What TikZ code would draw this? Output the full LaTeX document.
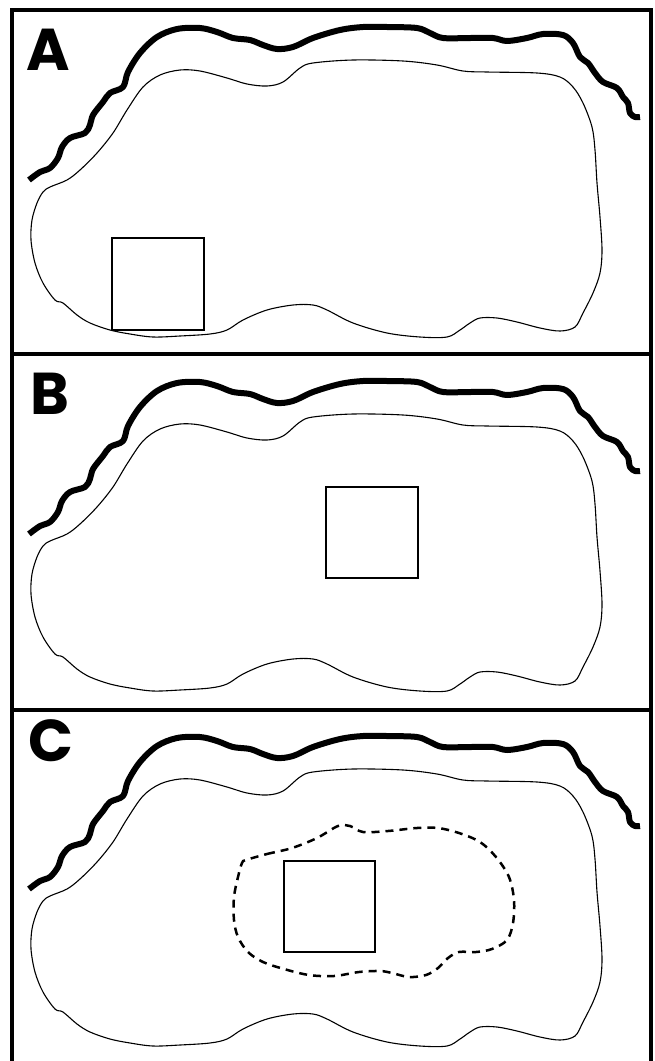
\documentclass[tikz,border=0pt]{standalone}
\usepackage{fontspec}
\newfontfamily\labfont{Poppins}
\begin{document}
\begin{tikzpicture}[x=1pt,y=-1pt,
  frame/.style={line width=4pt},
  coast/.style={line width=6pt,line join=round},
  outline/.style={line width=1.1pt},
  sq/.style={line width=2.5pt},
  zone/.style={line width=2.5pt,dash pattern=on 8pt off 6pt},
  lab/.style={anchor=base west,inner sep=0pt,font=\labfont\bfseries\fontsize{59}{59}\selectfont}]
\useasboundingbox (0,0) rectangle (654,1061);
\def\coastline{plot[smooth,tension=0.55] coordinates {(29,180) (40,172) (50,168) (58,158) (62,147) (70,138) (85,133) (90,125) (93,115) (103,102) (110,93) (123,87) (128,72) (140,53) (157,37) (177,29) (200,28) (217,32) (233,38) (250,40) (263,45) (277,49) (293,47) (313,38) (340,30) (363,27) (387,27) (417,28) (430,33) (443,38) (470,38) (493,38) (507,41) (527,38) (543,34) (563,35) (573,43) (580,57) (588,63) (595,73) (603,82) (617,88) (623,97) (628,103) (630,113) (635,117) (640,117)}}
\def\island{plot[smooth cycle,tension=0.55] coordinates {(50,187) (67,180) (80,170) (97,153) (113,133) (127,110) (143,87) (160,75) (180,70) (200,71) (227,78) (247,84) (267,86) (283,82) (300,68) (313,63) (353,60) (403,61) (437,65) (463,71) (487,72) (537,73) (560,77) (573,87) (583,103) (592,127) (595,150) (597,183) (600,217) (602,250) (600,273) (593,293) (583,313) (575,327) (560,331) (540,328) (517,322) (497,318) (480,318) (470,323) (460,330) (447,337) (420,337) (387,333) (353,323) (327,310) (313,305) (293,305) (267,310) (243,320) (227,330) (210,334) (180,336) (153,337) (130,334) (110,330) (90,323) (77,315) (63,303) (55,300) (43,283) (35,263) (31,240) (32,220) (37,203) (43,192)}}
% frame
\draw[frame] (12,1063) -- (12,10) -- (651,10) -- (651,1063);
\draw[frame] (12,354) -- (651,354);
\draw[frame] (12,710) -- (651,710);
% panel A
\draw[coast] \coastline;
\draw[outline] \island;
\draw[sq] (112,238) rectangle (204,330);
\node[lab] (la) at (26,70) {A};
% panel B
\begin{scope}[shift={(0,354)}]
\draw[coast] \coastline;
\draw[outline] \island;
\end{scope}
\draw[sq] (326,487) rectangle (418,578);
\node[lab] (lb) at (30,414) {B};
% panel C
\begin{scope}[shift={(0,709)}]
\draw[coast] \coastline;
\draw[outline] \island;
\end{scope}
\draw[zone] plot[smooth cycle,tension=0.55] coordinates {(246,860) (267,854) (292,848) (317,838) (338,826) (350,826) (363,832) (388,831) (417,828) (438,828) (459,833) (480,842) (496,857) (509,877) (514,900) (513,923) (507,940) (492,949) (476,952) (459,952) (448,958) (438,968) (426,975) (409,977) (392,973) (380,971) (359,972) (334,976) (309,975) (284,969) (263,962) (248,952) (238,937) (234,920) (234,897) (238,877) (242,863)};
\draw[sq] (284,861) rectangle (375,952);
\node[lab] (lc) at (28,761) {C};
\end{tikzpicture}
\end{document}
